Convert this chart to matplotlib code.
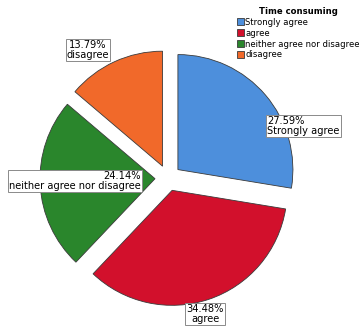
import matplotlib.pyplot as plt
import numpy as np

# --------------------------------- Data --------------------------------- #
categories = ['Strongly agree', 'agree', 'neither agree nor disagree', 'disagree']
percents = [27.59, 34.48, 24.14, 13.79]
colors = ['#4d8fdc', '#d2102c', '#2a862c', '#f1692a']
legend_title = 'Time consuming'

# label boxes: (x, y) in pixel coords of the image, alignment
label_pos = [(267, 126, 'left'), (205, 314, 'center'), (141, 181, 'right'), (88, 50, 'center')]

W, H = 359, 329
fig = plt.figure(figsize=(W / 100, H / 100), dpi=100)
ax = fig.add_axes([0, 0, 1, 1])

wedges, _ = ax.pie(percents, colors=colors, startangle=90, counterclock=False,
                   center=(168, H - 178), radius=115, explode=[13] * 4,
                   wedgeprops=dict(edgecolor='#3a3a3a', linewidth=0.6), frame=True)
ax.set_xlim(0, W); ax.set_ylim(0, H)
ax.set_aspect('equal')
ax.axis('off')

for pct, cat, (x, y, ha) in zip(percents, categories, label_pos):
    ax.text(x, H - y, f'{pct:.2f}%\n{cat}', ha=ha, va='center', multialignment=ha,
            fontsize=7.1, linespacing=0.9,
            bbox=dict(boxstyle='square,pad=0.12', facecolor='white', edgecolor='#8a8a8a', linewidth=0.7))

leg = ax.legend(wedges, categories, title=legend_title, loc='upper left',
                bbox_to_anchor=(231 / W, 1 - 1 / H), frameon=False, fontsize=6.1,
                title_fontproperties=dict(weight='bold', size=6.1), handlelength=0.85,
                handleheight=0.85, handletextpad=0.15, labelspacing=0.22, borderpad=0.2)

fig.savefig('out.png', dpi=100)
